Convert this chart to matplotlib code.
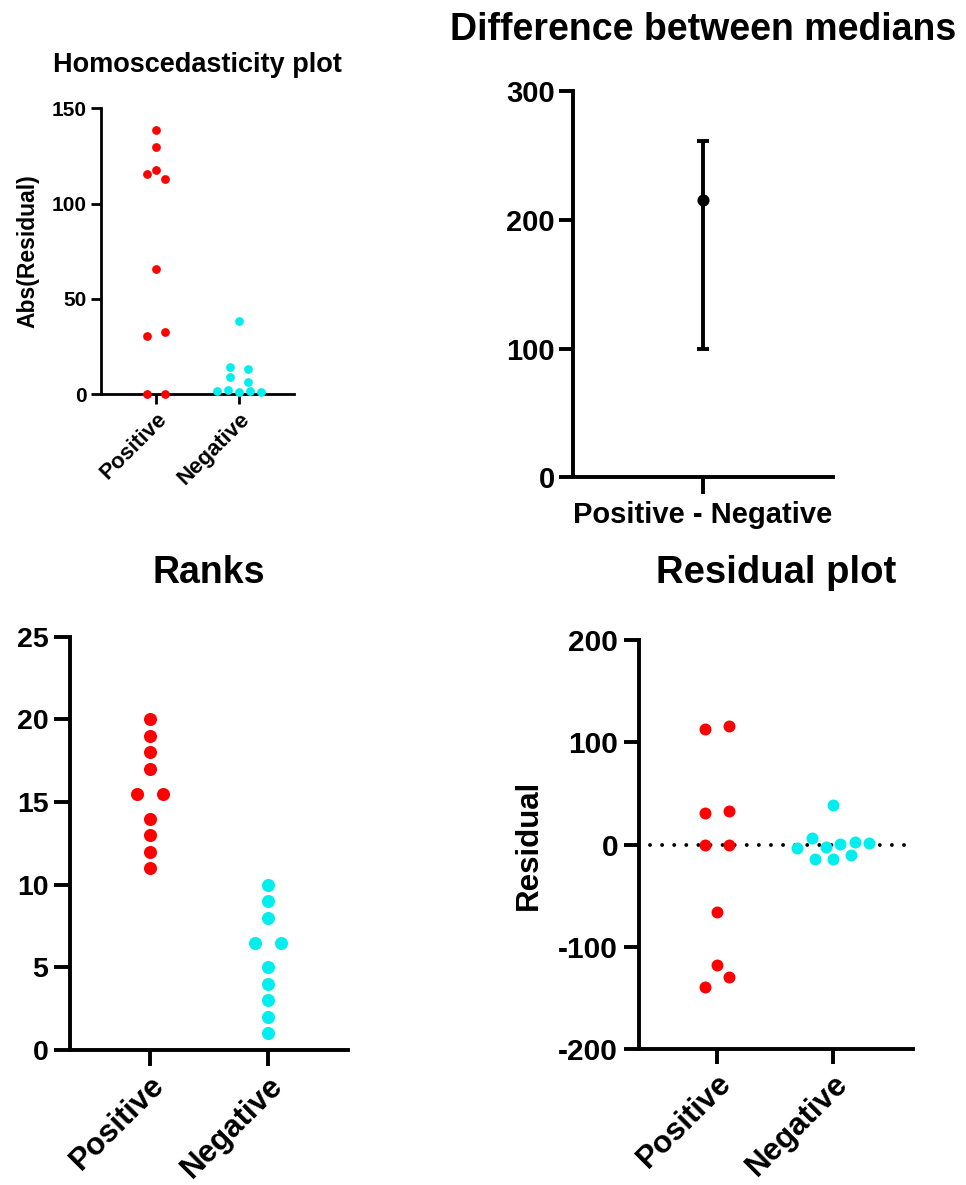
import numpy as np
import matplotlib.pyplot as plt

# Data
groups = ['Positive', 'Negative']

abs_res_pos = [0, 0, 30.8, 32.7, 65.7, 115.6, 112.8, 117.8, 129.5, 138.6]
abs_res_neg = [1.7, 2.4, 1.4, 1.9, 1.4, 9.3, 6.3, 14.3, 13.3, 38.5]

diff_label = ['Positive - Negative']
diff_median = [215]
diff_ci_low = [100]
diff_ci_high = [261]

ranks_pos = [11, 12, 13, 14, 15.5, 15.5, 17, 18, 19, 20]
ranks_neg = [1, 2, 3, 4, 5, 6.5, 6.5, 8, 9, 10]

resid_pos = [-139, -130, -118, -66, 0, 0, 31, 33, 113, 116]
resid_neg = [-14.3, -13.7, -9.8, -3.3, 6.5, -2.0, 0.7, 2.0, 1.3, 38.4]

RED = '#FF0000'
CYAN = '#00EEEE'

plt.rcParams['font.family'] = ['Liberation Sans', 'DejaVu Sans']
plt.rcParams['font.weight'] = 'bold'
plt.rcParams['axes.unicode_minus'] = False

W, H, DPI = 966, 1185, 100
fig = plt.figure(figsize=(W / DPI, H / DPI), dpi=DPI)


def addAxes(left, top, right, bottom):
    '''
    axes box given in pixels of the figure
    '''
    return fig.add_axes([left / W, 1 - bottom / H, (right - left) / W, (bottom - top) / H])


def styleAxes(ax, lw, ticklen, fontsize, pad):
    for side in ['top', 'right']:
        ax.spines[side].set_visible(False)
    for side in ['left', 'bottom']:
        ax.spines[side].set_linewidth(lw)
    ax.tick_params(width=lw, length=ticklen, labelsize=fontsize, pad=pad)


def swarmOffsets(ax, values, diameter_px):
    '''
    rows of points that would overlap are spread symmetrically
    '''
    ylo, yhi = ax.get_ylim()
    xlo, xhi = ax.get_xlim()
    px_y = ax.bbox.height / (yhi - ylo)
    px_x = ax.bbox.width / (xhi - xlo)
    values = np.asarray(values, dtype=float)
    order = np.argsort(values, kind='stable')
    rows = []
    for idx in order:
        if rows and (values[idx] - values[rows[-1][0]]) * px_y < 0.9 * diameter_px:
            rows[-1].append(idx)
        else:
            rows.append([idx])
    offsets = np.zeros(len(values))
    for row in rows:
        n = len(row)
        if n == 1:
            continue
        spacing = diameter_px * (1 + 1 / (n - 1))
        for k, idx in enumerate(sorted(row)):
            offsets[idx] = (k - (n - 1) / 2) * spacing / px_x
    return offsets


def dotColumns(ax, series, colors, ms):
    diameter_px = ms * DPI / 72
    for i, (vals, col) in enumerate(zip(series, colors)):
        xs = i + swarmOffsets(ax, vals, diameter_px)
        ax.plot(xs, vals, 'o', color=col, ms=ms, mew=0, clip_on=False, zorder=5)


# Homoscedasticity plot
ax1 = addAxes(101, 108.3, 294, 394.3)
ax1.set_xlim(-0.663, 1.663)
ax1.set_ylim(0, 150)
styleAxes(ax1, 2.0, 7.5, 15, 3)
ax1.set_yticks([0, 50, 100, 150])
ax1.set_xticks([0, 1], groups, rotation=45, ha='right', rotation_mode='anchor', fontsize=16)
dotColumns(ax1, [abs_res_pos, abs_res_neg], [RED, CYAN], 6.3)
ax1.set_ylabel('Abs(Residual)', fontsize=16.5, fontweight='bold')
ax1.yaxis.set_label_coords(-0.32, 0.5)
ax1.set_title('Homoscedasticity plot', fontsize=19.5, fontweight='bold', pad=26)

# Difference between medians
ax2 = addAxes(572.7, 91, 833, 477.3)
ax2.set_xlim(-1, 1)
ax2.set_ylim(0, 300)
styleAxes(ax2, 2.8, 10, 21, 3)
ax2.tick_params(axis='x', length=12, pad=5)
ax2.set_yticks([0, 100, 200, 300])
ax2.set_xticks([0], diff_label, fontsize=21)
med = np.array(diff_median)
yerr = [med - np.array(diff_ci_low), np.array(diff_ci_high) - med]
ax2.errorbar(range(len(med)), med, yerr=yerr, fmt='o', color='black', ms=7.7,
             elinewidth=2.8, capsize=4, capthick=2.8, zorder=5)
ax2.set_title('Difference between medians', fontsize=27, fontweight='bold', pad=37)

# Ranks
ax3 = addAxes(70, 636.7, 348, 1050)
ax3.set_xlim(-0.672, 1.672)
ax3.set_ylim(0, 25)
styleAxes(ax3, 2.8, 11.5, 20.5, 4)
ax3.set_yticks([0, 5, 10, 15, 20, 25])
ax3.set_xticks([0, 1], groups, rotation=45, ha='right', rotation_mode='anchor', fontsize=22.5)
ax3.tick_params(axis='x', pad=3)
dotColumns(ax3, [ranks_pos, ranks_neg], [RED, CYAN], 9.4)
ax3.set_title('Ranks', fontsize=27, fontweight='bold', pad=38.5)

# Residual plot
ax4 = addAxes(639, 640, 913, 1049)
ax4.set_xlim(-0.666, 1.683)
ax4.set_ylim(-200, 200)
styleAxes(ax4, 2.8, 11, 21.5, 4)
ax4.set_yticks([-200, -100, 0, 100, 200])
ax4.set_xticks([0, 1], groups, rotation=45, ha='right', rotation_mode='anchor', fontsize=22.5)
ax4.tick_params(axis='x', pad=3)
ax4.axhline(0, xmin=0.04, xmax=0.99, color='black', lw=2.8, ls=(0, (0.01, 3.1)),
            dash_capstyle='round', zorder=1)
dotColumns(ax4, [resid_pos, resid_neg], [RED, CYAN], 8.6)
ax4.set_ylabel('Residual', fontsize=22.5, fontweight='bold')
ax4.yaxis.set_label_coords(-0.347, 0.5)
ax4.set_title('Residual plot', fontsize=27.5, fontweight='bold', pad=41)

fig.savefig('out.png', dpi=DPI)
plt.close()
